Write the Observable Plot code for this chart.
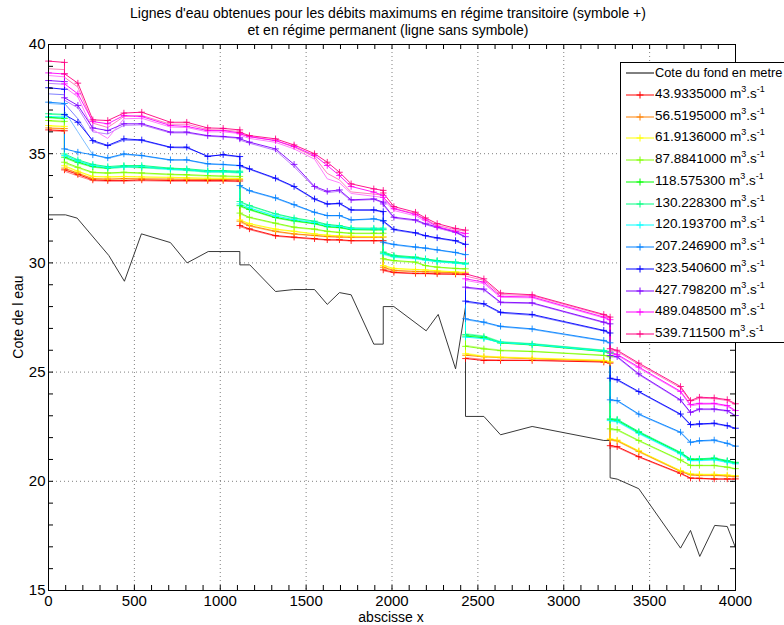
<!DOCTYPE html>
<html><head><meta charset="utf-8">
<script src="https://cdn.jsdelivr.net/npm/d3@7"></script>
<script src="https://cdn.jsdelivr.net/npm/@observablehq/plot@0.6"></script>
<style>
body{margin:0;background:#fff;}
#wrap{position:relative;width:784px;height:625px;overflow:hidden;background:#fff;font-family:'Liberation Sans Narrow','Arial Narrow','Liberation Sans',Arial,sans-serif;color:#000;}
#chart{position:absolute;left:0;top:0;}
.ttl{position:absolute;left:0;width:776px;text-align:center;font-size:14px;line-height:16px;white-space:nowrap;}
.xl{position:absolute;left:0;width:782px;text-align:center;top:609px;font-size:14px;}
.yl{position:absolute;left:18px;top:317px;font-size:14px;transform:translate(-50%,-50%) rotate(-90deg);white-space:nowrap;}
#legend{position:absolute;left:620px;top:62px;width:200px;height:279px;border:1px solid #000;background:#fff;}
.row{position:absolute;left:0;height:20px;white-space:nowrap;font-size:13.5px;font-family:'Liberation Sans',Arial,sans-serif;}
.row svg{position:absolute;left:4px;top:4px;}
.row span{position:absolute;left:34px;top:1px;}
.row span.first{font-size:12.8px;top:1.5px;}
.row sup{font-size:9px;vertical-align:6px;line-height:0;}
</style></head>
<body>
<div id="wrap">
  <div id="chart"></div>
  <div class="ttl" style="top:5px">Lignes d'eau obtenues pour les débits maximums en régime transitoire (symbole +)</div>
  <div class="ttl" style="top:22px">et en régime permanent (ligne sans symbole)</div>
  <div class="xl">abscisse x</div>
  <div class="yl">Cote de l eau</div>
  <div id="legend"></div>
</div>
<script>
// ---- data ----
const sectionX = [0,93,93,171,258,345,439,543,710,805,927,1017,1114,1114,1170,1322,1430,1549,1623,1694,1762,1894,1949,1949,2011,2137,2195,2263,2370,2428,2428,2535,2632,2816,3233,3270,3270,3311,3437,3680,3738,3790,3876,3952,4000];

const fondX = [0,99,167,351,442,541,710,807,930,1114,1114,1172,1322,1428,1549,1623,1694,1762,1894,1949,1949,2011,2199,2269,2370,2428,2428,2535,2632,2816,3233,3270,3270,3311,3437,3680,3738,3792,3879,3952,4000];
const fondY = [32.2,32.2,32.05,30.34,29.16,31.33,30.93,30.0,30.52,30.52,29.91,29.91,28.69,28.78,28.78,28.10,28.64,28.54,26.28,26.28,28.0,28.0,26.89,27.64,25.15,27.97,22.97,22.97,22.13,22.51,21.87,21.87,20.16,20.1,19.66,16.94,17.75,16.56,17.98,17.93,16.96];

const debits = ["43.9335000","56.5195000","61.9136000","87.8841000","118.575300","130.228300","120.193700","207.246900","323.540600","427.798200","489.048500","539.711500"];
const colorsT = ["#ff0000","#ff8000","#ffff00","#80ff00","#00ff00","#00ff80","#00ffff","#0080ff","#0000ff","#8000ff","#ff00ff","#ff0080"];
const colorsP = ["#ff8080","#ffbf80","#ffff80","#bfff80","#80ff80","#80ffbf","#80ffff","#80bfff","#8080ff","#bf80ff","#ff80ff","#ff80bf"];

// transitoire (with + markers)
const q1T = [36.09,36.05,34.26,34.05,33.80,33.77,33.77,33.80,33.77,33.77,33.77,33.77,33.75, 31.71,31.56,31.25,31.18,31.11,31.06,31.06,31.02,31.02,31.02, 29.68,29.57,29.52,29.52,29.50,29.49,29.47, 25.62,25.53,25.53,25.53,25.46,25.41, 21.63,21.59,21.13,20.37,20.15,20.14,20.11,20.11,20.11];
const q2T = [36.18,36.15,34.34,34.11,33.86,33.84,33.86,33.85,33.84,33.83,33.82,33.82,33.81, 31.91,31.71,31.45,31.33,31.26,31.21,31.19,31.18,31.18,31.18, 29.80,29.66,29.61,29.60,29.58,29.55,29.53, 25.77,25.70,25.66,25.61,25.50,25.45, 21.91,21.86,21.37,20.46,20.30,20.28,20.28,20.25,20.21];
const q3T = [36.29,36.25,34.45,34.20,33.96,33.94,33.96,33.94,33.92,33.90,33.88,33.88,33.86, 31.97,31.80,31.55,31.45,31.33,31.27,31.24,31.22,31.20,31.20, 29.88,29.75,29.70,29.68,29.64,29.59,29.57, 25.84,25.71,25.68,25.63,25.53,25.47, 21.94,21.89,21.40,20.49,20.34,20.32,20.32,20.29,20.26];
const q4T = [36.52,36.48,34.61,34.38,34.15,34.12,34.15,34.12,34.06,34.04,34.00,33.98,33.96, 32.28,32.09,31.82,31.64,31.55,31.45,31.40,31.36,31.36,31.36, 30.19,30.11,30.04,29.88,29.81,29.75,29.73, 26.18,26.06,25.98,25.94,25.76,25.70, 22.40,22.37,21.87,20.98,20.73,20.73,20.73,20.65,20.58];
const q5T = [36.67,36.62,34.84,34.61,34.41,34.34,34.41,34.38,34.31,34.26,34.18,34.18,34.15, 32.62,32.45,32.08,31.93,31.80,31.66,31.62,31.53,31.52,31.52, 30.45,30.30,30.23,30.15,30.08,30.01,29.96, 26.65,26.57,26.33,26.24,25.94,25.87, 22.82,22.80,22.24,21.30,21.00,21.00,21.03,20.92,20.84];
const q6T = [36.83,36.80,34.99,34.72,34.51,34.41,34.46,34.46,34.34,34.31,34.23,34.23,34.20, 32.81,32.63,32.25,32.06,31.91,31.76,31.71,31.60,31.59,31.59, 30.50,30.35,30.27,30.19,30.11,30.04,29.99, 26.72,26.63,26.37,26.29,25.99,25.92, 22.86,22.84,22.28,21.33,21.03,21.03,21.07,20.95,20.87];
const q7T = [36.70,36.68,34.92,34.66,34.45,34.36,34.40,34.40,34.29,34.26,34.18,34.18,34.15, 32.70,32.52,32.15,31.98,31.84,31.70,31.66,31.56,31.55,31.55, 30.42,30.28,30.21,30.14,30.06,30.00,29.95, 26.60,26.53,26.35,26.26,25.96,25.89, 22.78,22.75,22.20,21.26,20.95,20.96,20.99,20.88,20.80];
const q8T = [37.36,37.30,35.22,35.07,34.95,34.81,34.99,34.92,34.72,34.72,34.54,34.51,34.46, 33.54,33.31,32.98,32.67,32.32,32.17,32.17,31.97,32.02,31.94, 30.95,30.85,30.73,30.68,30.60,30.48,30.38, 27.44,27.29,27.10,26.98,26.45,26.34, 23.73,23.70,23.08,22.25,21.79,21.86,21.89,21.74,21.61];
const q9T = [38.02,37.95,36.79,36.44,35.60,35.38,35.68,35.63,35.30,35.30,34.87,34.96,34.87, 34.46,34.31,33.88,33.50,32.93,32.70,32.73,32.43,32.43,32.35, 31.92,31.54,31.38,31.25,31.15,31.02,30.85, 28.25,28.13,27.74,27.64,26.91,26.79, 24.72,24.66,24.11,23.08,22.60,22.63,22.66,22.55,22.43];
const q10T = [38.35,38.30,37.56,37.21,36.18,36.06,36.37,36.37,35.99,35.99,35.83,35.79,35.73, 35.68,35.53,35.22,34.51,33.50,33.28,33.34,32.89,32.93,32.78, 32.70,32.09,31.97,31.79,31.64,31.41,31.20, 28.89,28.80,28.20,28.17,27.29,27.21, 25.76,25.71,24.92,23.73,23.16,23.31,23.31,23.24,23.01];
const q11T = [38.70,38.65,38.20,37.74,36.47,36.37,36.75,36.70,36.29,36.25,36.06,36.06,35.95, 35.91,35.78,35.60,35.33,34.92,34.46,34.00,33.50,33.24,33.09, 33.00,32.48,32.22,31.97,31.66,31.45,31.35, 29.27,29.12,28.47,28.44,27.52,27.40, 25.91,25.81,25.23,24.12,23.51,23.57,23.57,23.47,23.24];
const q12T = [39.24,39.18,38.66,38.23,36.55,36.52,36.86,36.90,36.44,36.44,36.18,36.16,36.09, 35.98,35.83,35.68,35.40,35.00,34.61,34.15,33.62,33.39,33.32, 33.20,32.58,32.32,32.06,31.80,31.58,31.50, 29.50,29.27,28.62,28.54,27.64,27.52, 26.07,26.00,25.41,24.34,23.70,23.85,23.82,23.74,23.55];

// permanent (no symbol)
const q1P = [36.05,36.02,34.20,33.98,33.76,33.74,33.74,33.76,33.74,33.74,33.73,33.73,33.72, 31.66,31.52,31.22,31.15,31.08,31.04,31.03,31.00,31.00,31.00, 29.64,29.54,29.50,29.50,29.48,29.47,29.45, 25.66,25.58,25.56,25.55,25.48,25.44, 21.58,21.55,21.10,20.34,20.13,20.12,20.09,20.09,20.08];
const q2P = [36.15,36.12,34.30,34.08,33.84,33.82,33.84,33.83,33.82,33.81,33.80,33.80,33.79, 31.86,31.68,31.42,31.31,31.24,31.19,31.17,31.16,31.16,31.16, 29.76,29.63,29.59,29.58,29.56,29.53,29.51, 25.80,25.73,25.68,25.63,25.52,25.47, 21.88,21.83,21.34,20.44,20.28,20.26,20.26,20.23,20.19];
const q3P = [36.26,36.22,34.41,34.17,33.94,33.92,33.94,33.92,33.90,33.88,33.86,33.86,33.84, 31.93,31.77,31.52,31.43,31.31,31.25,31.22,31.20,31.18,31.18, 29.84,29.72,29.68,29.66,29.62,29.57,29.55, 25.87,25.74,25.70,25.65,25.55,25.49, 21.91,21.86,21.37,20.47,20.32,20.30,20.30,20.27,20.24];
const q4P = [36.49,36.45,34.56,34.34,34.12,34.09,34.12,34.09,34.03,34.01,33.97,33.95,33.93, 32.24,32.06,31.79,31.61,31.52,31.43,31.38,31.34,31.34,31.34, 30.15,30.08,30.01,29.86,29.79,29.73,29.71, 26.22,26.10,26.01,25.96,25.78,25.72, 22.36,22.33,21.84,20.95,20.71,20.71,20.71,20.63,20.56];
const q5P = [36.64,36.59,34.80,34.57,34.38,34.31,34.38,34.35,34.28,34.23,34.15,34.15,34.12, 32.58,32.42,32.05,31.90,31.78,31.64,31.60,31.51,31.50,31.50, 30.41,30.27,30.20,30.13,30.06,29.99,29.94, 26.69,26.60,26.36,26.27,25.96,25.89, 22.78,22.76,22.21,21.27,20.97,20.98,21.01,20.90,20.82];
const q6P = [36.80,36.77,34.95,34.68,34.48,34.38,34.43,34.43,34.31,34.28,34.20,34.20,34.17, 32.77,32.60,32.22,32.03,31.88,31.74,31.69,31.58,31.57,31.57, 30.46,30.32,30.24,30.17,30.09,30.02,29.97, 26.76,26.66,26.40,26.31,26.01,25.94, 22.82,22.80,22.25,21.30,21.01,21.01,21.05,20.93,20.85];
const q7P = [36.67,36.64,34.88,34.62,34.42,34.33,34.37,34.37,34.26,34.23,34.15,34.15,34.12, 32.66,32.49,32.12,31.95,31.82,31.68,31.64,31.54,31.53,31.53, 30.38,30.25,30.18,30.11,30.04,29.98,29.93, 26.64,26.56,26.38,26.28,25.98,25.91, 22.74,22.72,22.17,21.23,20.93,20.94,20.97,20.86,20.78];
const q8P = [37.30,37.25,36.95,36.00,34.95,34.78,34.96,34.90,34.70,34.70,34.52,34.49,34.44, 33.50,33.28,32.95,32.64,32.30,32.15,32.15,31.95,32.00,31.92, 30.92,30.82,30.70,30.66,30.58,30.46,30.36, 27.40,27.26,27.07,26.95,26.42,26.32, 23.70,23.67,23.05,22.22,21.76,21.83,21.86,21.72,21.58];
const q9P = [37.74,37.70,37.30,36.60,35.55,35.35,35.62,35.60,35.28,35.26,34.90,34.93,34.85, 34.42,34.28,33.85,33.47,32.90,32.68,32.70,32.40,32.40,32.32, 31.88,31.50,31.35,31.22,31.12,30.99,30.82, 28.20,28.10,27.70,27.60,26.88,26.76, 24.68,24.62,24.08,23.05,22.56,22.60,22.63,22.52,22.40];
const q10P = [38.22,38.18,37.45,37.10,36.00,35.90,36.30,36.32,35.95,35.95,35.80,35.76,35.70, 35.62,35.48,35.15,34.40,33.45,33.22,33.28,32.85,32.90,32.75, 32.65,32.05,31.93,31.75,31.60,31.38,31.18, 28.85,28.76,28.17,28.14,27.26,27.18, 25.72,25.67,24.88,23.70,23.13,23.28,23.28,23.21,22.98];
const q11P = [38.58,38.52,38.05,37.60,36.10,35.70,36.60,36.62,36.22,36.20,36.00,36.00,35.92, 35.85,35.70,35.52,35.22,34.75,33.85,33.67,33.18,33.05,33.00, 32.90,32.40,32.15,31.90,31.60,31.40,31.30, 29.20,29.05,28.42,28.40,27.48,27.36, 25.85,25.77,25.18,24.08,23.45,23.52,23.53,23.43,23.20];
const q12P = [38.89,38.85,38.50,38.05,36.40,36.20,36.70,36.75,36.35,36.35,36.10,36.08,36.02, 35.92,35.78,35.60,35.30,34.85,34.10,33.80,33.25,33.15,33.10, 33.00,32.50,32.25,32.00,31.72,31.52,31.45, 29.40,29.20,28.55,28.50,27.60,27.48, 26.00,25.95,25.35,24.28,23.65,23.80,23.78,23.70,23.50];

const xTicks = [0,500,1000,1500,2000,2500,3000,3500,4000];
const yTicks = [15,20,25,30,35,40];

// ---- build tables ----
const seriesT = [q1T,q2T,q3T,q4T,q5T,q6T,q7T,q8T,q9T,q10T,q11T,q12T];
const seriesP = [q1P,q2P,q3P,q4P,q5P,q6P,q7P,q8P,q9P,q10P,q11P,q12P];
const rowsT = seriesT.flatMap((vals, s) => vals.map((v, i) => ({x: sectionX[i], y: v, s, c: colorsT[s]})));
const rowsP = seriesP.flatMap((vals, s) => vals.map((v, i) => ({x: sectionX[i], y: v, s, c: colorsP[s]})));
const fond = fondX.map((x, i) => ({x, y: fondY[i]}));
const minorX = d3.range(0, 4001, 100);
const minorY = d3.range(15, 41, 1);

const W = 784, H = 625, mt = 44, mb = 35, ml = 48, mr = 49;
const innerW = W - ml - mr, innerH = H - mt - mb;
const plus = {draw(ctx, size) { const r = Math.sqrt(size / Math.PI); ctx.moveTo(-r, 0); ctx.lineTo(r, 0); ctx.moveTo(0, -r); ctx.lineTo(0, r); }};
const grid = {stroke: "#000", strokeOpacity: 0.5, strokeDasharray: "1,3", strokeWidth: 1};

const chart = Plot.plot({
  width: W, height: H,
  marginTop: mt, marginBottom: mb, marginLeft: ml, marginRight: mr,
  x: {domain: [0, 4000]},
  y: {domain: [15, 40]},
  color: {type: "identity"},
  style: {fontFamily: "'Liberation Sans',Arial,sans-serif", fontSize: "15px", background: "white", color: "black", overflow: "visible"},
  marks: [
    Plot.gridX(xTicks.slice(1, -1), grid),
    Plot.gridY(yTicks.slice(1, -1), grid),
    Plot.line(fond, {x: "x", y: "y", stroke: "#222", strokeWidth: 0.9}),
    Plot.line(rowsP, {x: "x", y: "y", z: "s", stroke: "c", strokeWidth: 1}),
    Plot.line(rowsT, {x: "x", y: "y", z: "s", stroke: "c", strokeWidth: 1, strokeOpacity: 0.9}),
    Plot.dot(rowsT, {x: "x", y: "y", stroke: "c", symbol: plus, r: 3.3, strokeWidth: 1, strokeOpacity: 0.85, fill: "none"}),
    Plot.tickX(minorX, {insetTop: innerH - 5, stroke: "black"}),
    Plot.tickX(minorX, {insetBottom: innerH - 5, stroke: "black"}),
    Plot.tickY(minorY, {insetRight: innerW - 5, stroke: "black"}),
    Plot.tickY(minorY, {insetLeft: innerW - 5, stroke: "black"}),
    Plot.frame({stroke: "black"}),
    Plot.axisX(xTicks, {tickSize: 0, tickPadding: 5, tickFormat: d3.format("d"), label: null}),
    Plot.axisY(yTicks, {tickSize: 0, tickPadding: 3, label: null})
  ]
});
document.getElementById("chart").appendChild(chart);

// ---- legend ----
const legend = d3.select("#legend");
const entries = [{label: "Cote du fond en metre", color: "#000", mark: false}]
  .concat(debits.map((d, i) => ({label: d, color: colorsT[i], mark: true, unit: true})));
entries.forEach((e, i) => {
  const row = legend.append("div").attr("class", "row").style("top", (i * 21.75) + "px");
  const svg = row.append("svg").attr("width", 30).attr("height", 12);
  svg.append("line").attr("x1", 1).attr("x2", 29).attr("y1", 6).attr("y2", 6).attr("stroke", e.color).attr("stroke-width", 1);
  if (e.mark) {
    svg.append("line").attr("x1", 11.5).attr("x2", 18.5).attr("y1", 6).attr("y2", 6).attr("stroke", e.color);
    svg.append("line").attr("x1", 15).attr("x2", 15).attr("y1", 2.5).attr("y2", 9.5).attr("stroke", e.color);
  }
  const sp = row.append("span");
  if (e.unit) sp.html(e.label + " m<sup>3</sup>.s<sup>-1</sup>");
  else sp.attr("class", "first").text(e.label);
});
</script>
</body></html>
